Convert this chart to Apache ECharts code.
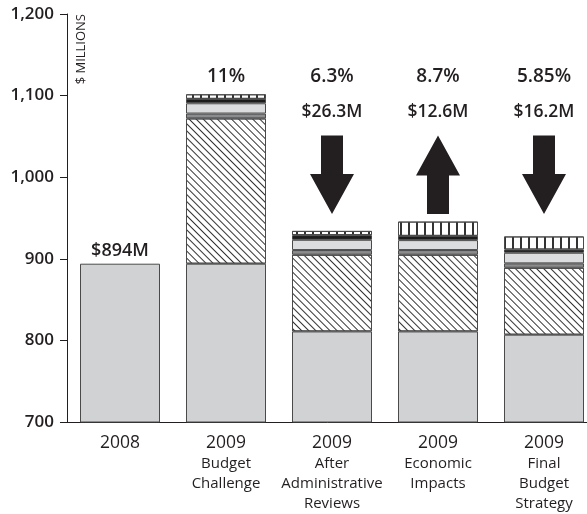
<!DOCTYPE html>
<html><head><meta charset="utf-8">
<script src="https://cdn.jsdelivr.net/npm/echarts@6/dist/echarts.min.js"></script>
<style>html,body{margin:0;padding:0;background:#fff}#c{width:587px;height:514px}</style>
</head><body><div id="c"></div>
<script>
const categories = ['2008', '2009\nBudget\nChallenge', '2009\nAfter\nAdministrative\nReviews', '2009\nEconomic\nImpacts', '2009\nFinal\nBudget\nStrategy'];
const baseValues = [894, 894, 811, 811, 807];
const hatchValues = [null, 178, 94, 94, 82];
const darkGrayValues = [null, 6, 5.7, 5.7, 5.4];
const lightGrayValues = [null, 12.6, 12.6, 12.2, 13];
const blackValues = [null, 5.4, 5.7, 5.2, 4];
const stripeValues = [null, 5.6, 5.2, 17.5, 16];
const pctLabels = ['', '11%', '6.3%', '8.7%', '5.85%'];
const amtLabels = ['', '', '$26.3M', '$12.6M', '$16.2M'];
const arrowDir = [0, 0, -1, 1, -1];
const yTicks = [700, 800, 900, 1000, 1100, 1200];

const FONT = 'Open Sans';
const TXT = '#231f20';
const border = { borderColor: '#4a4a4a', borderWidth: 1 };

const chart = echarts.init(document.getElementById('c'), null, { renderer: 'canvas' });

function barSeries(name, data, style) {
  return { name, type: 'bar', stack: 's', data, barWidth: 80, itemStyle: Object.assign({}, border, style), emphasis: { disabled: true }, silent: true };
}

const option = {
  animation: false,
  grid: { left: 67, top: 14, right: -10, bottom: 92, containLabel: false, outerBoundsMode: 'none' },
  xAxis: {
    type: 'category', data: categories,
    axisLine: { lineStyle: { color: '#231f20', width: 1 } },
    axisTick: { show: false },
    axisLabel: {
      interval: 0, margin: 11,
      formatter: function (v) {
        const parts = v.split('\n');
        return parts.map((p, i) => i === 0 ? '{a|' + p + '}' : '{b|' + p + '}').join('\n');
      },
      rich: {
        a: { fontFamily: FONT, fontSize: 17.5, color: TXT, lineHeight: 21 },
        b: { fontFamily: FONT, fontSize: 15, color: TXT, lineHeight: 20 }
      }
    }
  },
  yAxis: {
    type: 'value', min: 700, max: 1200, interval: 100,
    axisLine: { show: true, lineStyle: { color: '#231f20', width: 1 } },
    axisTick: { show: true, length: 7, lineStyle: { color: '#231f20' } },
    splitLine: { show: false },
    axisLabel: {
      margin: 13, fontFamily: FONT, fontSize: 17, fontWeight: 600, color: TXT,
      formatter: v => v.toLocaleString('en-US')
    }
  },
  graphic: [{
    type: 'text', x: 81, y: 14, rotation: Math.PI / 2,
    style: { text: '$ MILLIONS', align: 'right', verticalAlign: 'middle', font: '13px "' + FONT + '"', fill: TXT }
  }],
  series: [
    Object.assign(barSeries('base', baseValues, { color: '#d1d2d4' }), {
      label: {
        show: true, position: 'top', distance: 4, fontFamily: FONT, fontSize: 18, fontWeight: 600, color: TXT,
        formatter: p => p.dataIndex === 0 ? '$' + p.value + 'M' : ''
      }
    }),
    barSeries('hatch', hatchValues, {
      color: '#ffffff',
      decal: { symbol: 'rect', symbolSize: 1, dashArrayX: [1, 0], dashArrayY: [1, 3.4], rotation: Math.PI / 4, color: '#333333' }
    }),
    barSeries('dark', darkGrayValues, { color: '#8b8c8e' }),
    barSeries('light', lightGrayValues, { color: '#dcdddf' }),
    barSeries('black', blackValues, { color: '#1c1c1c' }),
    barSeries('stripes', stripeValues, {
      color: '#ffffff',
      decal: { symbol: 'rect', symbolSize: 1, dashArrayX: [1.2, 6], dashArrayY: [4, 0], color: '#333333' }
    }),
    {
      type: 'custom', silent: true, z: 10,
      data: categories.map((c, i) => [i, 1123]),
      renderItem: function (params, api) {
        const i = params.dataIndex;
        const cx = api.coord([i, 1000])[0];
        const children = [];
        if (pctLabels[i]) children.push({ type: 'text', style: { text: pctLabels[i], x: cx, y: api.coord([i, 1123])[1], align: 'center', verticalAlign: 'middle', font: '600 19px "' + FONT + '"', fill: TXT } });
        if (amtLabels[i]) children.push({ type: 'text', style: { text: amtLabels[i], x: cx, y: api.coord([i, 1080])[1], align: 'center', verticalAlign: 'middle', font: '600 17.5px "' + FONT + '"', fill: TXT } });
        const d = arrowDir[i];
        if (d) {
          const top = api.coord([i, 1051])[1];
          const bot = api.coord([i, 955])[1];
          const headLen = 40, sw = 11, hw = 22;
          let pts;
          if (d < 0) {
            const hb = bot - headLen;
            pts = [[cx - sw, top], [cx + sw, top], [cx + sw, hb], [cx + hw, hb], [cx, bot], [cx - hw, hb], [cx - sw, hb]];
          } else {
            const hb = top + headLen;
            pts = [[cx, top], [cx + hw, hb], [cx + sw, hb], [cx + sw, bot], [cx - sw, bot], [cx - sw, hb], [cx - hw, hb]];
          }
          children.push({ type: 'polygon', shape: { points: pts }, style: { fill: '#231f20' } });
        }
        return { type: 'group', children };
      }
    }
  ]
};
chart.setOption(option);
</script></body></html>
